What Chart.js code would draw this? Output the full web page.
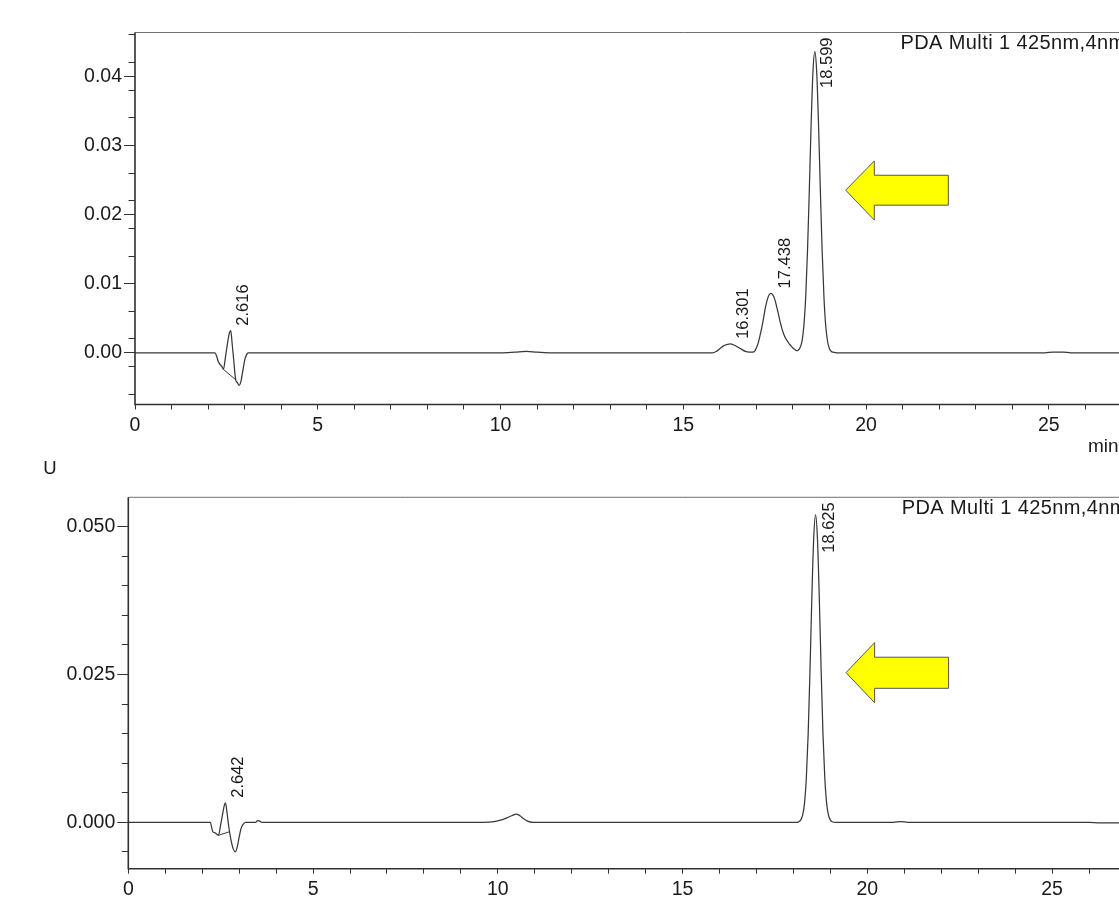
<!DOCTYPE html>
<html><head><meta charset="utf-8">
<script src="https://cdn.jsdelivr.net/npm/chart.js@4.4.0/dist/chart.umd.min.js"></script>
<style>
html,body{margin:0;padding:0;background:#fff;overflow:hidden;width:1119px;height:897px;position:relative;}
canvas{position:absolute;left:0;}
#c1{top:0;}
#c2{top:455px;}
</style></head><body>
<canvas id="c1" width="1250" height="460" style="width:1250px;height:460px"></canvas>
<canvas id="c2" width="1250" height="442" style="width:1250px;height:442px"></canvas>
<script>
// ---------- DATA ----------
const topTime = [0,1,2,2.19,2.24,2.28,2.33,2.38,2.42,2.47,2.52,2.57,2.62,2.66,2.70,2.755,2.80,2.85,2.90,2.95,3.00,3.05,3.10,4,6,8,10,10.4,10.7,11.0,11.4,13,15,15.8,15.9,16.0,16.1,16.2,16.28,16.4,16.5,16.6,16.7,16.8,16.9,16.95,17.0,17.05,17.1,17.15,17.2,17.25,17.3,17.35,17.4,17.45,17.5,17.55,17.6,17.65,17.7,17.75,17.8,17.85,17.9,17.95,18.0,18.05,18.1,18.15,18.2,18.25,18.3,18.35,18.4,18.45,18.5,18.55,18.6,18.65,18.7,18.75,18.8,18.85,18.9,18.95,19.0,19.05,19.1,19.2,20,22,24,24.9,25.1,25.4,25.6,27,28.5,30];
const topSignal = [0,0,0,0,-0.0006,-0.0013,-0.0017,-0.0020,-0.0024,-0.0008,0.0010,0.0026,0.0032,0.0012,-0.0010,-0.0039,-0.0043,-0.0047,-0.0041,-0.0026,-0.0011,-0.0003,0,0,0,0,0,0.0001,0.0002,0.0001,0,0,0,0,0.0002,0.0006,0.0010,0.0012,0.0013,0.0011,0.0008,0.0005,0.0002,0.0001,0.0001,0.0002,0.0007,0.0014,0.0025,0.0037,0.0051,0.0066,0.0077,0.0084,0.0086,0.0084,0.0078,0.0068,0.0057,0.0045,0.0035,0.0027,0.0021,0.0017,0.0013,0.0010,0.0007,0.0005,0.0003,0.0004,0.0008,0.0017,0.0039,0.0080,0.0148,0.0237,0.0333,0.0408,0.0436,0.0408,0.0333,0.0237,0.0148,0.0080,0.0038,0.0016,0.0006,0.0002,0.0001,0,0,0,0,0,0.0001,0.0001,0,0,0,0];
const topBaseTime = [2.42, 2.755];
const topBaseSignal = [-0.0024, -0.0039];
const topPeakRT = [2.616, 16.301, 17.438, 18.599];
const topPeakHeight = [0.0032, 0.0013, 0.0086, 0.0436];

const bottomTime = [0,1,2,2.22,2.26,2.29,2.35,2.44,2.50,2.55,2.60,2.63,2.67,2.72,2.78,2.84,2.90,2.95,3.00,3.05,3.10,3.17,3.45,3.50,3.56,3.62,5,7,9,9.6,9.9,10.1,10.3,10.45,10.5,10.6,10.7,10.8,10.95,12,14,16,17.5,18.1,18.15,18.2,18.25,18.3,18.35,18.4,18.45,18.5,18.55,18.6,18.65,18.7,18.75,18.8,18.85,18.9,18.95,19.0,19.05,19.15,20.7,20.9,21.1,24,26,26.3,26.9,27.5,30];
const bottomSignal = [0,0,0,0,-0.0010,-0.0016,-0.0018,-0.0022,-0.0004,0.0013,0.0029,0.0033,0.0017,-0.0008,-0.0030,-0.0045,-0.0050,-0.0041,-0.0025,-0.0011,-0.0004,0,0,0.0003,0.0002,0,0,0,0,0,0.0001,0.0004,0.0009,0.0013,0.0014,0.0011,0.0006,0.0002,0,0,0,0,0,0,0.0001,0.0004,0.0012,0.0032,0.0075,0.0150,0.0259,0.0382,0.0481,0.0520,0.0481,0.0382,0.0259,0.0150,0.0075,0.0032,0.0012,0.0004,0.0001,0,0,0.0001,0,0,0,-0.0001,-0.0001,0,0];
const bottomBaseTime = [2.44, 2.74];
const bottomBaseSignal = [-0.0022, -0.0016];
const bottomPeakRT = [2.642, 18.625];
const bottomPeakHeight = [0.0033, 0.0520];

const xTickStep = 1;
const xLabelStep = 5;
const topYMajor = 0.01, topYMinor = 0.002;
const bottomYMajor = 0.025, bottomYMinor = 0.005;

// ---------- STYLE / LAYOUT ----------
const FONT = "'Liberation Sans', Arial, Helvetica, sans-serif";
const TXT = '#1a1a1a';
const LINE = '#383838';

const framePlugin = {
  id: 'frame',
  afterDraw(chart) {
    const {ctx, chartArea: a} = chart;
    ctx.save();
    ctx.strokeStyle = '#707070';
    ctx.lineWidth = 1;
    ctx.beginPath();
    ctx.moveTo(a.left, a.top); ctx.lineTo(a.right, a.top); ctx.lineTo(a.right, a.bottom);
    ctx.stroke();
    ctx.strokeStyle = '#303030';
    ctx.lineWidth = 1.6;
    ctx.beginPath();
    ctx.moveTo(a.left, a.top); ctx.lineTo(a.left, a.bottom); ctx.lineTo(a.right, a.bottom);
    ctx.stroke();
    ctx.restore();
  }
};
const peakLabelPlugin = {
  id: 'peakLabels',
  afterDatasetsDraw(chart, args, o) {
    const {ctx, chartArea: a, scales} = chart;
    const x = scales.x, y = scales.y;
    ctx.save();
    ctx.font = o.font; ctx.fillStyle = TXT;
    ctx.textAlign = 'left'; ctx.textBaseline = 'middle';
    o.rt.forEach((rt, i) => {
      const label = rt.toFixed(3);
      const px = x.getPixelForValue(rt) + o.dx;
      const w = ctx.measureText(label).width;
      let bottom = y.getPixelForValue(o.height[i]) - o.gap;
      if (bottom - w < a.top + o.gap) bottom = a.top + o.gap + w;
      ctx.save(); ctx.translate(px, bottom); ctx.rotate(-Math.PI / 2);
      ctx.fillText(label, 0, 0); ctx.restore();
    });
    ctx.restore();
  }
};
const arrowPlugin = {
  id: 'arrow',
  afterDatasetsDraw(chart, args, o) {
    const {ctx, scales} = chart;
    const x = scales.x, y = scales.y;
    const [xt, xh, xe] = o.x;
    const [ym, yht, yst, ysb, yhb] = o.y;
    const pts = [[xt, ym], [xh, yht], [xh, yst], [xe, yst], [xe, ysb], [xh, ysb], [xh, yhb]];
    ctx.save();
    ctx.beginPath();
    pts.forEach(([vx, vy], i) => {
      const px = x.getPixelForValue(vx), py = y.getPixelForValue(vy);
      if (i) ctx.lineTo(px, py); else ctx.moveTo(px, py);
    });
    ctx.closePath();
    ctx.fillStyle = '#ffff00'; ctx.fill();
    ctx.strokeStyle = '#555555'; ctx.lineWidth = 1; ctx.stroke();
    ctx.restore();
  }
};
const textPlugin = {
  id: 'texts',
  afterDraw(chart, args, o) {
    const {ctx} = chart;
    ctx.save();
    o.items.forEach(t => {
      ctx.font = t.font; ctx.fillStyle = TXT;
      ctx.letterSpacing = t.spacing || '0px';
      ctx.textAlign = t.align || 'left'; ctx.textBaseline = 'alphabetic';
      ctx.fillText(t.text, t.x, t.y);
    });
    ctx.letterSpacing = '0px';
    ctx.restore();
  }
};

function makeChart(id, c) {
  const W = 1250;
  const xMax = 30;
  const plotRight = c.plotLeft + xMax * c.xPerMin;
  const tickFont = {family: FONT, size: 19.5};
  return new Chart(document.getElementById(id), {
    type: 'line',
    data: {
      datasets: [
        { data: c.time.map((t, i) => ({x: t, y: c.signal[i]})), borderColor: LINE, borderWidth: 1.25,
          pointRadius: 0, cubicInterpolationMode: 'monotone', xAxisID: 'x', yAxisID: 'y' },
        { data: c.baseTime.map((t, i) => ({x: t, y: c.baseSignal[i]})), borderColor: LINE, borderWidth: 1,
          pointRadius: 0, xAxisID: 'x', yAxisID: 'y' }
      ]
    },
    options: {
      responsive: false, animation: false, events: [], devicePixelRatio: 1,
      layout: { padding: { left: 0, top: c.plotTop, right: W - plotRight, bottom: 0 } },
      plugins: {
        legend: {display: false}, tooltip: {enabled: false},
        peakLabels: { rt: c.peakRT, height: c.peakHeight, font: "16.5px " + FONT, dx: 13, gap: 5 },
        arrow: c.arrow,
        texts: { items: c.texts }
      },
      scales: {
        x: {
          type: 'linear', position: 'bottom', min: 0, max: xMax,
          ticks: { stepSize: xTickStep, autoSkip: false, maxRotation: 0, includeBounds: false,
            callback: v => (Math.round(v) % xLabelStep === 0 ? String(Math.round(v)) : ''),
            font: tickFont, color: TXT, padding: 4 },
          grid: { drawOnChartArea: false, drawTicks: true, tickLength: 5, color: '#333', lineWidth: 1 },
          border: { display: false },
          afterFit: s => { s.height = c.canvasH - c.plotBottom; s.paddingLeft = 0; s.paddingRight = 0; }
        },
        y: {
          type: 'linear', position: 'left', min: c.yMin, max: c.yMax, weight: 1,
          ticks: { stepSize: c.yMajor, includeBounds: false, callback: v => v.toFixed(c.digits),
            font: tickFont, color: TXT, padding: 2 },
          grid: { drawOnChartArea: false, drawTicks: true, tickLength: 11, color: '#333', lineWidth: 1 },
          border: { display: false },
          afterFit: s => { s.width = c.plotLeft; s.paddingTop = 0; s.paddingBottom = 0; }
        },
        yMinor: {
          type: 'linear', position: 'left', min: c.yMin, max: c.yMax, weight: 0,
          ticks: { stepSize: c.yMinorStep, includeBounds: false, callback: () => '' },
          grid: { drawOnChartArea: false, drawTicks: true, tickLength: 6.5, color: '#333', lineWidth: 1 },
          border: { display: false },
          afterFit: s => { s.width = 0; s.paddingTop = 0; s.paddingBottom = 0; }
        }
      }
    },
    plugins: [framePlugin, arrowPlugin, peakLabelPlugin, textPlugin]
  });
}

makeChart('c1', {
  time: topTime, signal: topSignal, baseTime: topBaseTime, baseSignal: topBaseSignal,
  peakRT: topPeakRT, peakHeight: topPeakHeight,
  yMin: -0.00748, yMax: 0.04636, yMajor: topYMajor, yMinorStep: topYMinor, digits: 2,
  plotLeft: 135, plotTop: 32.5, plotBottom: 404.5, canvasH: 460, xPerMin: 36.55,
  arrow: { x: [19.444, 20.227, 22.252], y: [0.02354, 0.02777, 0.02570, 0.02137, 0.01921] },
  texts: [
    { text: 'PDA Multi 1 425nm,4nm', x: 900.5, y: 48.5, font: "20px " + FONT, spacing: '0.4px' },
    { text: 'min', x: 1088, y: 452, font: "19px " + FONT }
  ]
});
makeChart('c2', {
  time: bottomTime, signal: bottomSignal, baseTime: bottomBaseTime, baseSignal: bottomBaseSignal,
  peakRT: bottomPeakRT, peakHeight: bottomPeakHeight,
  yMin: -0.00785, yMax: 0.05497, yMajor: bottomYMajor, yMinorStep: bottomYMinor, digits: 3,
  plotLeft: 128.3, plotTop: 42.3, plotBottom: 413.7, canvasH: 442, xPerMin: 36.95,
  arrow: { x: [19.424, 20.198, 22.20], y: [0.02531, 0.03039, 0.02792, 0.02266, 0.02022] },
  texts: [
    { text: 'PDA Multi 1 425nm,4nm', x: 901.7, y: 58.5, font: "20px " + FONT, spacing: '0.4px' },
    { text: 'U', x: 43.3, y: 18.5, font: "18.5px " + FONT }
  ]
});
</script>
</body></html>
